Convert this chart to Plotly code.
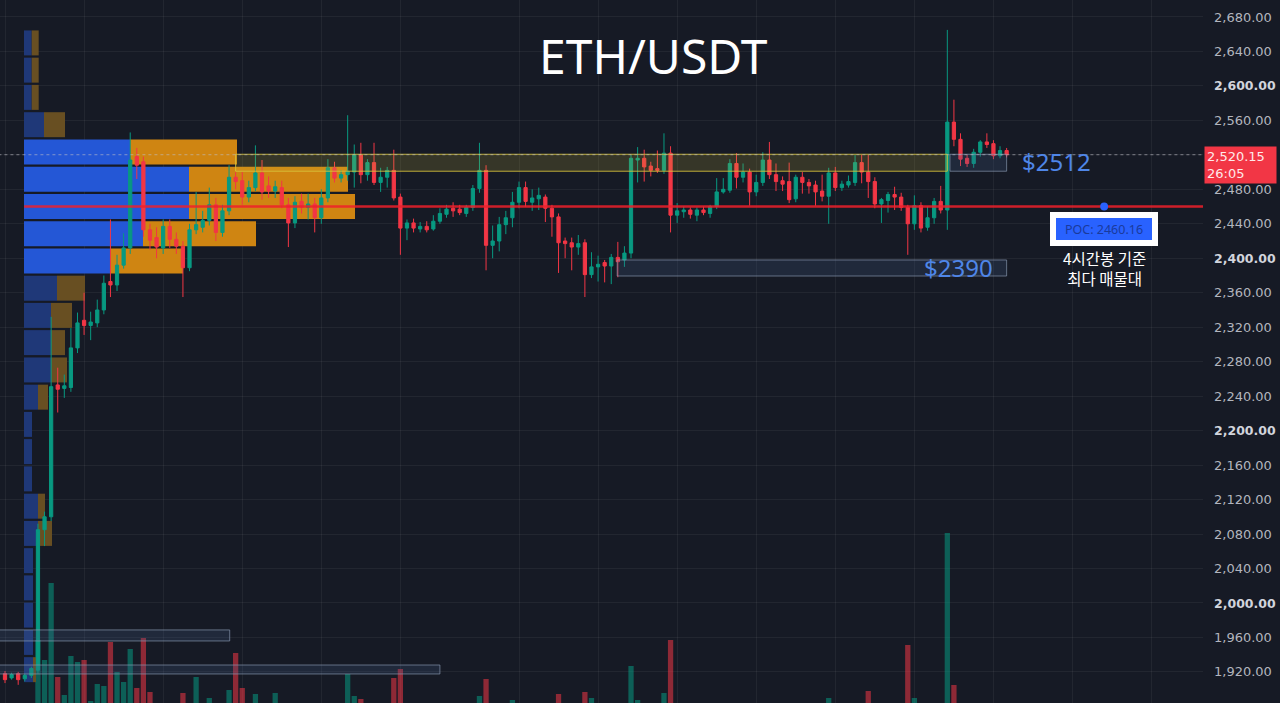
import plotly.graph_objects as go

# ---------------- data ----------------
opens = [1918, 1913, 1918, 1912, 1916, 1922, 2085, 2100, 2253, 2249,
         2250, 2296, 2328, 2322, 2325, 2340, 2373, 2369, 2392, 2412,
         2518, 2512, 2433, 2424, 2412, 2437, 2422, 2414, 2389, 2433,
         2436, 2444, 2462, 2430, 2455, 2494, 2490, 2471, 2482, 2499,
         2484, 2478, 2482, 2462, 2441, 2466, 2459, 2463, 2447, 2470,
         2505, 2493, 2497, 2500, 2520, 2497, 2511, 2488, 2494, 2502,
         2471, 2435, 2441, 2434, 2437, 2434, 2443, 2451, 2458, 2457,
         2452, 2459, 2481, 2502, 2415, 2420, 2439, 2447, 2465, 2482,
         2465, 2469, 2471, 2458, 2448, 2420, 2418, 2413, 2418, 2381,
         2390, 2395, 2391, 2401, 2398, 2406, 2514, 2516, 2507, 2504,
         2502, 2522, 2450, 2454, 2456, 2450, 2456, 2452, 2460, 2477,
         2479, 2510, 2494, 2500, 2477, 2488, 2514, 2497, 2490, 2489,
         2469, 2494, 2488, 2485, 2478, 2472, 2499, 2482, 2485, 2488,
         2511, 2500, 2489, 2463, 2467, 2474, 2471, 2459, 2440, 2461,
         2436, 2447, 2466, 2456, 2558, 2538, 2516, 2510, 2523, 2535,
         2533, 2519, 2525]
highs = [1921, 1919, 1920, 1918, 1926, 2092, 2106, 2332, 2273, 2265,
         2319, 2337, 2360, 2338, 2352, 2380, 2445, 2404, 2429, 2546,
         2528, 2518, 2440, 2436, 2445, 2445, 2430, 2420, 2440, 2477,
         2455, 2482, 2470, 2462, 2508, 2500, 2500, 2490, 2531, 2514,
         2495, 2490, 2490, 2470, 2472, 2475, 2475, 2470, 2480, 2515,
         2512, 2502, 2566, 2532, 2534, 2515, 2534, 2505, 2506, 2526,
         2475, 2445, 2446, 2442, 2443, 2450, 2458, 2462, 2465, 2462,
         2462, 2485, 2534, 2508, 2438, 2448, 2455, 2477, 2489, 2489,
         2480, 2482, 2474, 2462, 2452, 2424, 2424, 2427, 2422, 2407,
         2403, 2398, 2405, 2419, 2414, 2520, 2529, 2526, 2512, 2525,
         2545, 2530, 2464, 2460, 2459, 2459, 2460, 2462, 2493, 2493,
         2515, 2522, 2510, 2504, 2497, 2523, 2535, 2510, 2495, 2511,
         2497, 2500, 2492, 2490, 2497, 2505, 2506, 2490, 2496, 2520,
         2520, 2520, 2494, 2470, 2477, 2483, 2476, 2462, 2473, 2465,
         2460, 2470, 2484, 2665, 2584, 2545, 2520, 2527, 2537, 2545,
         2537, 2530, 2528]
lows = [1907, 1911, 1905, 1909, 1913, 1918, 2066, 2095, 2221, 2238,
        2245, 2290, 2311, 2305, 2320, 2335, 2355, 2362, 2388, 2405,
        2492, 2425, 2410, 2400, 2405, 2412, 2405, 2355, 2385, 2428,
        2430, 2438, 2420, 2425, 2450, 2480, 2462, 2465, 2478, 2468,
        2470, 2470, 2458, 2413, 2435, 2452, 2445, 2430, 2440, 2465,
        2488, 2488, 2490, 2482, 2487, 2490, 2485, 2477, 2482, 2467,
        2404, 2421, 2430, 2430, 2430, 2432, 2440, 2447, 2448, 2450,
        2448, 2455, 2476, 2386, 2400, 2408, 2428, 2436, 2458, 2460,
        2455, 2456, 2442, 2425, 2383, 2400, 2386, 2404, 2355, 2377,
        2373, 2372, 2370, 2378, 2390, 2400, 2488, 2489, 2495, 2499,
        2498, 2430, 2441, 2447, 2446, 2443, 2450, 2447, 2457, 2475,
        2476, 2481, 2488, 2461, 2472, 2484, 2492, 2478, 2478, 2464,
        2465, 2475, 2475, 2461, 2466, 2440, 2478, 2478, 2482, 2484,
        2487, 2470, 2458, 2441, 2453, 2456, 2455, 2404, 2433, 2430,
        2432, 2440, 2452, 2433, 2530, 2507, 2506, 2505, 2518, 2528,
        2515, 2516, 2517]
closes = [1911, 1917, 1911, 1916, 1924, 2085, 2100, 2251, 2248, 2252,
          2296, 2325, 2322, 2326, 2340, 2371, 2369, 2392, 2412, 2514,
          2508, 2433, 2421, 2413, 2437, 2422, 2414, 2389, 2433, 2439,
          2444, 2462, 2430, 2455, 2494, 2489, 2471, 2482, 2499, 2477,
          2478, 2483, 2462, 2441, 2465, 2459, 2463, 2447, 2470, 2505,
          2493, 2497, 2501, 2520, 2497, 2511, 2488, 2494, 2502, 2470,
          2435, 2441, 2435, 2437, 2433, 2443, 2452, 2457, 2455, 2453,
          2459, 2481, 2502, 2415, 2420, 2439, 2447, 2465, 2482, 2466,
          2470, 2473, 2458, 2448, 2418, 2417, 2413, 2417, 2381, 2390,
          2393, 2391, 2401, 2396, 2406, 2516, 2516, 2506, 2502, 2502,
          2522, 2450, 2455, 2456, 2451, 2456, 2453, 2460, 2477, 2480,
          2510, 2494, 2500, 2477, 2488, 2514, 2497, 2489, 2486, 2468,
          2494, 2488, 2484, 2477, 2472, 2499, 2482, 2486, 2489, 2511,
          2500, 2489, 2463, 2468, 2474, 2471, 2459, 2440, 2461, 2435,
          2447, 2466, 2456, 2558, 2538, 2515, 2510, 2523, 2535, 2532,
          2519, 2525, 2520.15]
volumes = [0, 0, 0, 0, 0, 63, 43, 120, 26, 8,
           47, 41, 43, 2, 19, 17, 61, 31, 21, 54,
           15, 65, 11, 0, 0, 0, 0, 10, 0, 26,
           0, 5, 0, 0, 13, 50, 15, 0, 9, 0,
           0, 10, 0, 0, 0, 0, 0, 0, 0, 0,
           0, 0, 29, 7, 4, 0, 0, 0, 0, 25,
           34, 0, 0, 0, 0, 0, 0, 0, 0, 0,
           0, 0, 7, 24, 0, 0, 0, 3, 0, 0,
           0, 0, 0, 0, 9, 0, 0, 0, 11, 5,
           0, 0, 0, 0, 0, 37, 3, 0, 0, 0,
           10, 63, 0, 0, 0, 0, 0, 0, 0, 0,
           0, 0, 0, 0, 0, 0, 0, 0, 0, 0,
           0, 0, 0, 0, 0, 5, 0, 0, 0, 0,
           0, 12, 0, 0, 0, 0, 0, 58, 5, 0,
           0, 0, 0, 170, 18, 0, 0, 0, 0, 0,
           0, 0, 0]

# volume profile rows (price centres), up (blue) and down (orange) volume
prof_prices = [2649.9, 2618.3, 2586.7, 2555.0, 2523.4, 2491.8, 2460.16, 2428.5,
               2396.9, 2365.3, 2333.7, 2302.1, 2270.4, 2238.8, 2207.2, 2175.6,
               2144.0, 2112.3, 2080.7, 2049.1, 2017.5, 1985.9, 1954.2, 1922.6]
prof_up = [7.7, 7.7, 7.7, 20, 106, 165, 165, 119, 86, 33, 27, 27,
           27, 14, 8, 8, 8, 14, 14, 9, 9, 9, 9, 9]
prof_down = [7, 7, 7, 21, 107, 159, 166, 113, 73, 28, 21, 14,
             16, 10, 0, 0, 0, 7, 14, 0, 0, 0, 0, 3]
value_area = (2383.0, 2538.0)
poc_price = 2460.16
last_price = 2520.15
zone_top = (2501.0, 2520.7)
zone_2390 = (2379.4, 2398.0)
low_zone_1 = (1955.9, 1968.7)
low_zone_2 = (1917.6, 1928.0)
price_ticks = list(range(1920, 2681, 40))
bold_ticks = [2000, 2200, 2400, 2600]
time_grid = [0, 12, 24, 36, 48, 60, 78, 90, 102, 114, 126, 138, 150, 162, 174]

# ---------------- styling ----------------
BG = "#161a25"
GREEN = "#089981"
RED = "#f23645"
GRID = "rgba(255,255,255,0.055)"
AXFONT = "DejaVu Sans"
BLUE_TXT = "#4f86e8"

idx = list(range(len(opens)))
vol_colors = ["rgba(8,153,129,0.55)" if c >= o else "rgba(242,54,69,0.55)"
              for o, c in zip(opens, closes)]
in_va = [value_area[0] <= p <= value_area[1] for p in prof_prices]
up_colors = ["#2457d6" if v else "#1f3878" for v in in_va]
down_colors = ["#cf8512" if v else "#684f22" for v in in_va]

fig = go.Figure()

# volume bars (main subplot -> bottom layer)
fig.add_trace(go.Bar(x=idx, y=volumes, marker=dict(color=vol_colors, line=dict(width=0)),
                     width=0.8, xaxis="x", yaxis="y", hoverinfo="skip", showlegend=False))
# volume profile (overlay subplot x2/y2)
fig.add_trace(go.Bar(orientation="h", y=prof_prices, x=prof_up, base=0, width=29,
                     marker=dict(color=up_colors, line=dict(width=0)),
                     xaxis="x2", yaxis="y2", hoverinfo="skip", showlegend=False))
fig.add_trace(go.Bar(orientation="h", y=prof_prices, x=prof_down, base=prof_up, width=29,
                     marker=dict(color=down_colors, line=dict(width=0)),
                     xaxis="x2", yaxis="y2", hoverinfo="skip", showlegend=False))
# candles (overlay subplot x3/y2 -> drawn on top)
fig.add_trace(go.Candlestick(x=idx, open=opens, high=highs, low=lows, close=closes,
                             xaxis="x3", yaxis="y2",
                             increasing=dict(line=dict(color=GREEN, width=1), fillcolor=GREEN),
                             decreasing=dict(line=dict(color=RED, width=1), fillcolor=RED),
                             whiskerwidth=0, hoverinfo="skip", showlegend=False))

ticktext = []
for t in price_ticks:
    s = f"{t:,.2f}"
    if t == 2520:
        ticktext.append("")
    elif t in bold_ticks:
        ticktext.append(f"<b><span style='font-size:12.5px;fill:#d1d4dc'>{s}</span></b>")
    else:
        ticktext.append(s)

XR = [-0.76, 181.8]
YR = [1883.9, 2699.7]

fig.update_layout(
    width=1280, height=703,
    margin=dict(l=0, r=77, t=0, b=0, pad=0),
    paper_bgcolor=BG, plot_bgcolor=BG,
    barmode="overlay", showlegend=False, hovermode=False,
    xaxis=dict(range=XR, showgrid=True, gridcolor=GRID, gridwidth=1, tickvals=time_grid,
               showticklabels=False, zeroline=False, showline=False, ticks="",
               rangeslider=dict(visible=False), fixedrange=True),
    xaxis2=dict(overlaying="x", range=[-24, 1179], showgrid=False, showticklabels=False,
                zeroline=False, showline=False, ticks=""),
    xaxis3=dict(overlaying="x", range=XR, showgrid=False, showticklabels=False,
                zeroline=False, showline=False, ticks="", rangeslider=dict(visible=False)),
    yaxis=dict(range=[0, 703], showgrid=False, showticklabels=False, zeroline=False,
               showline=False, ticks=""),
    yaxis2=dict(overlaying="y", side="right", range=YR, showgrid=True, gridcolor=GRID,
                tickvals=price_ticks, ticktext=ticktext, zeroline=False, showline=False,
                ticks="", ticklabelstandoff=10,
                tickfont=dict(family=AXFONT, size=13, color="#b2b5be")),
)

box_line = "rgba(140,155,180,0.65)"
box_fill = "rgba(70,95,140,0.22)"
shapes = [
    # resistance zone (yellow)
    dict(type="rect", xref="x", yref="y2", x0=35, x1=143, y0=zone_top[0], y1=zone_top[1],
         fillcolor="rgba(215,195,60,0.17)", line=dict(color="rgba(215,195,60,0.85)", width=1),
         layer="above"),
    # small box at the right
    dict(type="rect", xref="x", yref="y2", x0=143.4, x1=152.0, y0=zone_top[0], y1=zone_top[1],
         fillcolor=box_fill, line=dict(color=box_line, width=1), layer="above"),
    # $2390 box
    dict(type="rect", xref="x", yref="y2", x0=92.9, x1=152.0, y0=zone_2390[0], y1=zone_2390[1],
         fillcolor=box_fill, line=dict(color=box_line, width=1), layer="above"),
    # low boxes
    dict(type="rect", xref="x", yref="y2", x0=-1, x1=34.1, y0=low_zone_1[0], y1=low_zone_1[1],
         fillcolor=box_fill, line=dict(color=box_line, width=1), layer="above"),
    dict(type="rect", xref="x", yref="y2", x0=-1, x1=66.0, y0=low_zone_2[0], y1=low_zone_2[1],
         fillcolor=box_fill, line=dict(color=box_line, width=1), layer="above"),
    # last price dotted line
    dict(type="line", xref="x", yref="y2", x0=-1, x1=182, y0=last_price, y1=last_price,
         line=dict(color="rgba(190,190,200,0.6)", width=1, dash="dot"), layer="above"),
    # POC line
    dict(type="line", xref="x", yref="y2", x0=2.9, x1=182, y0=poc_price, y1=poc_price,
         line=dict(color="rgba(238,32,42,0.85)", width=2.5), layer="above"),
    # POC marker dot
    dict(type="circle", xref="x", yref="y2", x0=166.2, x1=167.4, y0=poc_price - 4.6,
         y1=poc_price + 4.6, fillcolor="#2962ff", line=dict(width=0), layer="above"),
]
fig.update_layout(shapes=shapes)

annotations = [
    dict(text="ETH/USDT", xref="paper", yref="paper", x=653 / 1203, y=1 - 55.5 / 703,
         xanchor="center", yanchor="middle", showarrow=False,
         font=dict(family="Noto Sans", size=48, color="#ffffff")),
    dict(text="$2512", xref="x", yref="y2", x=154.0, y=2512.5, xanchor="left",
         yanchor="middle", showarrow=False,
         font=dict(family="Noto Sans", size=24, color=BLUE_TXT)),
    dict(text="$2390", xref="x", yref="y2", x=139.2, y=2389.5, xanchor="left",
         yanchor="middle", showarrow=False,
         font=dict(family="Noto Sans", size=24, color=BLUE_TXT)),
    dict(text="POC: 2460.16", xref="x", yref="y2", x=166.8, y=2434.5, xanchor="center",
         yanchor="middle", showarrow=False, bgcolor="#2962ff", bordercolor="#ffffff",
         borderwidth=6, borderpad=3, width=90, height=16,
         font=dict(family="Noto Sans", size=12.5, color="#1a3a9c")),
    dict(text="4시간봉 기준<br>최다 매물대", xref="x", yref="y2", x=166.8, y=2388.5,
         xanchor="center", yanchor="middle", showarrow=False, borderpad=0,
         font=dict(family="Noto Sans CJK KR", size=15.5, color="#ffffff")),
    dict(text="2,520.15<br>26:05", xref="paper", yref="y2", x=1.0, xshift=1, y=2530.3,
         xanchor="left", yanchor="top", align="left", showarrow=False, bgcolor=RED,
         borderpad=2, width=67,
         font=dict(family=AXFONT, size=13, color="#ffe9ea")),
    dict(text="1,880.00", xref="paper", yref="y2", x=1.0, xshift=10, y=1880,
         xanchor="left", yanchor="middle", showarrow=False,
         font=dict(family=AXFONT, size=13, color="#b2b5be")),
]
fig.update_layout(annotations=annotations)

fig.write_html("out.html", config={"displayModeBar": False},
               post_script="document.body.style.margin='0';document.body.style.overflow='hidden';")
